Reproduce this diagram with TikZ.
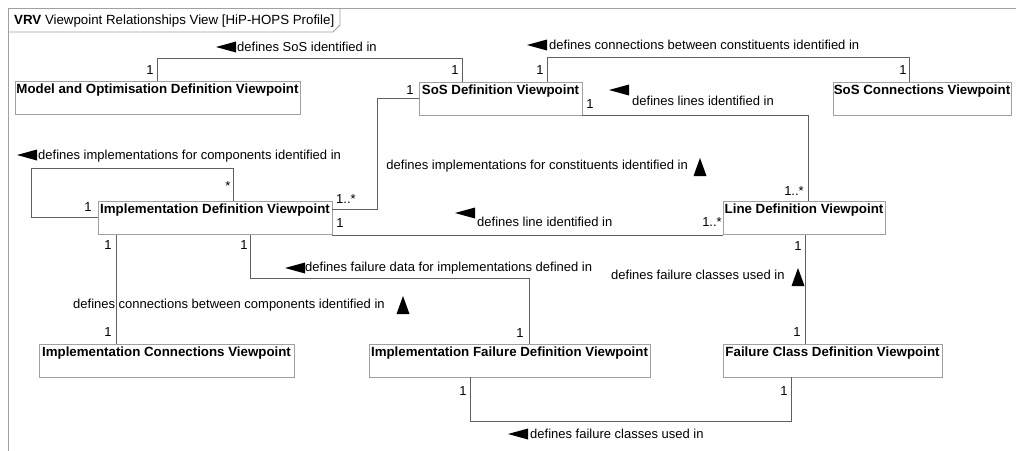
\documentclass[tikz,border=0pt]{standalone}
\usepackage{fontspec}
\setmainfont{Liberation Sans}
\definecolor{boxgray}{HTML}{A0A0A0}
\definecolor{linegray}{HTML}{606060}
\begin{document}
\begin{tikzpicture}[x=1pt,y=-1pt,
  font=\fontsize{13}{15}\selectfont,
  vbox/.style={draw=boxgray, line width=0.9pt, fill=white, minimum height=33pt, inner sep=0pt},
  ttl/.style={label={[anchor=north, inner sep=0pt, yshift=-3pt, font=\fontsize{13.3}{15}\selectfont\bfseries]north:#1}},
  conn/.style={draw=linegray, line width=0.9pt},
  lbl/.style={inner sep=0pt, anchor=west},
  mult/.style={inner sep=0pt},
  larr/.pic={\fill (0,0) -- (20,-5.5) -- (20,5.5) -- cycle;},
  uarr/.pic={\fill (0,0) -- (-6.5,18) -- (6.5,18) -- cycle;}
]
\path[fill=white] (0,0) rectangle (1016,450);
\useasboundingbox (0,0) rectangle (1016,450);
% frame
\draw[boxgray, line width=0.9pt] (1020,8) -- (8,8) -- (8,455);
\draw[boxgray, line width=0.9pt] (8,32) -- (333,32) -- (340,25) -- (340,8);
\node[lbl, font=\fontsize{13.3}{15}\selectfont] (hdr) at (14,21) {\textbf{VRV} Viewpoint Relationships View [HiP-HOPS Profile]};

% boxes
\node[vbox, minimum width=285pt, ttl={Model and Optimisation Definition Viewpoint}] (model) at (157.5,98) {};
\node[vbox, minimum width=163pt, ttl={SoS Definition Viewpoint}] (sos) at (500.5,98.5) {};
\node[vbox, minimum width=178pt, ttl={SoS Connections Viewpoint}] (sosconn) at (922,98.5) {};
\node[vbox, minimum width=234pt, ttl={Implementation Definition Viewpoint}] (impl) at (215,218) {};
\node[vbox, minimum width=162pt, ttl={Line Definition Viewpoint}] (line) at (804,218) {};
\node[vbox, minimum width=255pt, ttl={Implementation Connections Viewpoint}] (implconn) at (166.5,360.5) {};
\node[vbox, minimum width=281pt, ttl={Implementation Failure Definition Viewpoint}] (implfail) at (509.5,360.5) {};
\node[vbox, minimum width=219pt, ttl={Failure Class Definition Viewpoint}] (fc) at (832.5,360.5) {};

% connectors
\draw[conn] (157,0 |- model.north) -- (157,58) -- (462,58) -- (462,0 |- sos.north);
\draw[conn] (547,0 |- sos.north) -- (547,57) -- (909,57) -- (909,0 |- sosconn.north);
\draw[conn] (sos.south east) -- (808,0 |- sos.south) -- (808,0 |- line.north);
\draw[conn] (impl.east |- 0,209) -- (377,209) -- (377,98) -- (sos.west |- 0,98);
\draw[conn] (impl.west |- 0,217) -- (31,217) -- (31,168) -- (233,168) -- (233,0 |- impl.north);
\draw[conn] (impl.south east) -- (line.south west);
\draw[conn] (116,0 |- impl.south) -- (116,0 |- implconn.north);
\draw[conn] (250,0 |- impl.south) -- (250,278) -- (529,278) -- (529,0 |- implfail.north);
\draw[conn] (805,0 |- line.south) -- (805,0 |- fc.north);
\draw[conn] (470,0 |- implfail.south) -- (470,421) -- (791,421) -- (791,0 |- fc.south);

% connector labels
\pic at (216,47) {larr};
\node[lbl] (l1) at (237,47) {defines SoS identified in};
\pic at (527,45) {larr};
\node[lbl] (l2) at (549,45) {defines connections between constituents identified in};
\pic at (609,90) {larr};
\node[lbl] (l3) at (632,101) {defines lines identified in};
\pic at (17,155) {larr};
\node[lbl] (l4) at (38,156) {defines implementations for components identified in};
\node[lbl, anchor=east] (l5) at (688,166) {defines implementations for constituents identified in};
\pic at (700,158) {uarr};
\pic at (455,213) {larr};
\node[lbl] (l6) at (477,222) {defines line identified in};
\pic at (285,268) {larr};
\node[lbl] (l7) at (305,268) {defines failure data for implementations defined in};
\node[lbl] (l8) at (73,305) {defines connections between components identified in};
\pic at (403,296) {uarr};
\node[lbl] (l9) at (611,275) {defines failure classes used in};
\pic at (798,268) {uarr};
\pic at (508,434) {larr};
\node[lbl] (l10) at (530,434) {defines failure classes used in};

% multiplicities
\node[mult] (m1) at (150,70) {1};
\node[mult] (m2) at (455,70) {1};
\node[mult] (m3) at (540,70) {1};
\node[mult] (m4) at (903,70) {1};
\node[mult] (m5) at (410,90) {1};
\node[mult] (m6) at (590,104) {1};
\node[mult] (m7) at (794,191) {1..*};
\node[mult] (m8) at (712,222) {1..*};
\node[mult] (m9) at (228,186) {*};
\node[mult] (m10) at (88,207) {1};
\node[mult] (m11) at (346,199) {1..*};
\node[mult] (m12) at (340,223) {1};
\node[mult] (m13) at (108,245) {1};
\node[mult] (m14) at (244,245) {1};
\node[mult] (m15) at (108,332) {1};
\node[mult] (m16) at (520,333) {1};
\node[mult] (m17) at (798,246) {1};
\node[mult] (m18) at (797,332) {1};
\node[mult] (m19) at (463,391) {1};
\node[mult] (m20) at (784,391) {1};
\end{tikzpicture}
\end{document}
